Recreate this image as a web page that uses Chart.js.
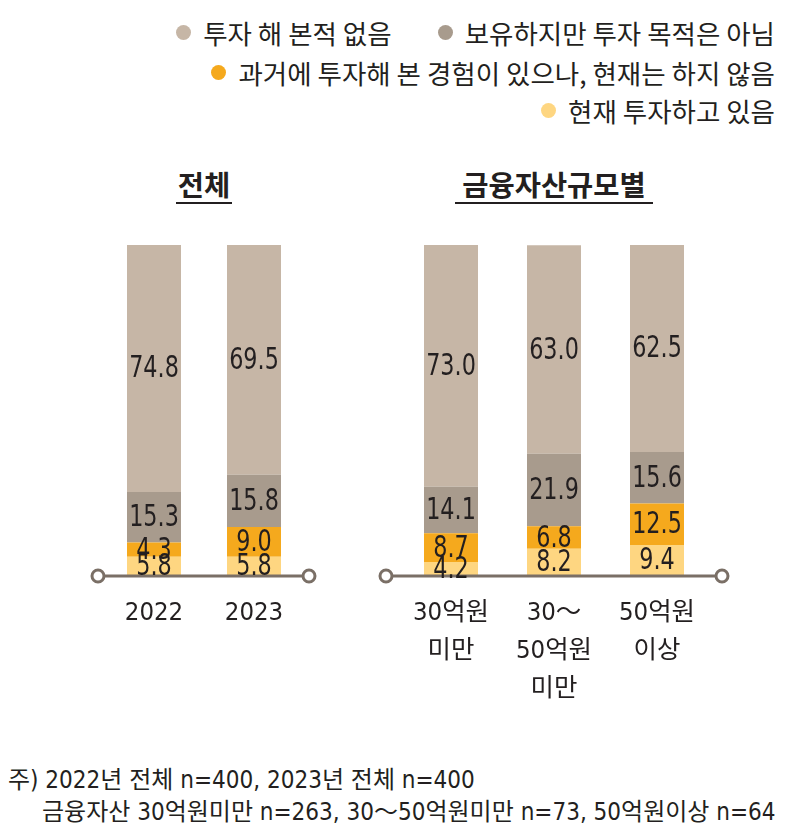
<!DOCTYPE html>
<html>
<head>
<meta charset="utf-8">
<script src="https://cdn.jsdelivr.net/npm/chart.js@4"></script>
<style>
  body { margin:0; width:790px; height:834px; position:relative; background:#fff; overflow:hidden;
         font-family:"Noto Sans CJK KR", sans-serif; color:#231f20; }
  .legend-row { position:absolute; right:15px; height:30px; display:flex; align-items:center; font-size:26.5px; white-space:nowrap; }
  .legend-item { display:flex; align-items:center; margin-left:46px; }
  .dot { width:15px; height:15px; border-radius:50%; margin-right:12px; }
  .title { position:absolute; font-size:28.5px; font-weight:bold; line-height:30px; text-align:center; }
  .uline { position:absolute; height:2px; background:#231f20; }
  .note { position:absolute; font-family:"DejaVu Sans Condensed","Noto Sans CJK KR",sans-serif; font-size:24px; line-height:24px; white-space:nowrap; }
  canvas { position:absolute; }
</style>
</head>
<body>
<div id="legend"></div>

<div class="title" style="left:164px; top:169px; width:80px;">전체</div>
<div class="uline" style="left:176px; top:202px; width:56px;"></div>
<div class="title" style="left:434px; top:169px; width:240px;">금융자산규모별</div>
<div class="uline" style="left:455px; top:202px; width:198px;"></div>

<div id="wrapTotal" style="position:absolute; left:64px; top:215px; width:280px; height:520px;"><canvas id="chartTotal"></canvas></div>
<div id="wrapAsset" style="position:absolute; left:360px; top:215px; width:390px; height:520px;"><canvas id="chartAsset"></canvas></div>

<div class="note" style="left:8px; top:768px;">주) 2022년 전체 n=400, 2023년 전체 n=400</div>
<div class="note" style="left:42px; top:800px;">금융자산 30억원미만 n=263, 30～50억원미만 n=73, 50억원이상 n=64</div>

<script>
// séries (ordre de la légende)
const seriesNames = ['투자 해 본적 없음', '보유하지만 투자 목적은 아님', '과거에 투자해 본 경험이 있으나, 현재는 하지 않음', '현재 투자하고 있음'];
const seriesColors = ['#c6b6a6', '#a89b8d', '#f5a91d', '#fed681'];

// 전체
const totalLabels = ['2022', '2023'];
const noneTotal = [74.8, 69.5];
const holdTotal = [15.3, 15.8];
const pastTotal = [4.3, 9.0];
const nowTotal  = [5.8, 5.8];

// 금융자산규모별
const assetLabels = [['30억원', '미만'], ['30～', '50억원', '미만'], ['50억원', '이상']];
const noneAsset = [73.0, 63.0, 62.5];
const holdAsset = [14.1, 21.9, 15.6];
const pastAsset = [8.7, 6.8, 12.5];
const nowAsset  = [4.2, 8.2, 9.4];

// légende en HTML
const rows = [[0, 1], [2], [3]];
const rowTops = [17, 57, 95];
const legend = document.getElementById('legend');
rows.forEach((r, i) => {
  const row = document.createElement('div');
  row.className = 'legend-row';
  row.style.top = rowTops[i] + 'px';
  r.forEach(k => {
    const item = document.createElement('div');
    item.className = 'legend-item';
    item.innerHTML = '<span class="dot" style="background:' + seriesColors[k] + '"></span>' + seriesNames[k];
    row.appendChild(item);
  });
  legend.appendChild(row);
});

// ligne de base avec cercles + valeurs
const baseAndValues = {
  id: 'baseAndValues',
  afterDatasetsDraw(chart, args, opts) {
    const ctx = chart.ctx;
    const area = chart.chartArea;
    const y = chart.scales.y.getPixelForValue(0);
    const x1 = area.left - opts.extL, x2 = area.right + opts.extR;
    ctx.save();
    ctx.strokeStyle = '#7a6f66';
    ctx.lineWidth = 3;
    ctx.beginPath();
    ctx.moveTo(x1, y);
    ctx.lineTo(x2, y);
    ctx.stroke();
    [x1, x2].forEach(cx => {
      ctx.beginPath();
      ctx.arc(cx, y, 6, 0, Math.PI * 2);
      ctx.fillStyle = '#fff';
      ctx.fill();
      ctx.stroke();
    });
    ctx.fillStyle = '#231f20';
    ctx.font = '31px "DejaVu Sans Condensed", sans-serif';
    ctx.textAlign = 'center';
    ctx.textBaseline = 'middle';
    chart.data.datasets.forEach((ds, i) => {
      chart.getDatasetMeta(i).data.forEach((bar, j) => {
        // texte étroit : on compresse horizontalement
        ctx.save();
        ctx.translate(bar.x, (bar.y + bar.base) / 2 + 1);
        ctx.scale(0.8, 1);
        ctx.fillText(ds.data[j].toFixed(1), 0, 0);
        ctx.restore();
      });
    });
    ctx.restore();
  }
};

function makeChart(id, labels, none, hold, past, now, barPct, padL, padR, extL, extR) {
  const sets = [now, past, hold, none];
  const idx = [3, 2, 1, 0];
  return new Chart(document.getElementById(id), {
    type: 'bar',
    data: {
      labels: labels,
      datasets: sets.map((d, i) => ({
        label: seriesNames[idx[i]],
        data: d,
        backgroundColor: seriesColors[idx[i]],
        borderWidth: 0,
        barPercentage: barPct,
        categoryPercentage: 1
      }))
    },
    options: {
      responsive: true,
      maintainAspectRatio: false,
      animation: false,
      layout: { padding: { left: padL, right: padR, top: 30, bottom: 0 } },
      plugins: {
        legend: { display: false },
        tooltip: { enabled: false },
        baseAndValues: { extL: extL, extR: extR }
      },
      scales: {
        x: {
          stacked: true,
          grid: { display: false, drawTicks: false },
          border: { display: false },
          ticks: {
            color: '#231f20',
            padding: 18,
            font: { family: '"DejaVu Sans Condensed", "Noto Sans CJK KR", sans-serif', size: 25.5, lineHeight: 1.5 },
            maxRotation: 0
          },
          afterFit: s => { s.height = 159; }
        },
        y: { stacked: true, display: false, min: 0, max: 100 }
      }
    },
    plugins: [baseAndValues]
  });
}

makeChart('chartTotal', totalLabels, noneTotal, holdTotal, pastTotal, nowTotal, 0.54, 40, 40, 6, 5);
makeChart('chartAsset', assetLabels, noneAsset, holdAsset, pastAsset, nowAsset, 54 / 103, 39.5, 41.5, 13.5, 13.5);
</script>
</body>
</html>
